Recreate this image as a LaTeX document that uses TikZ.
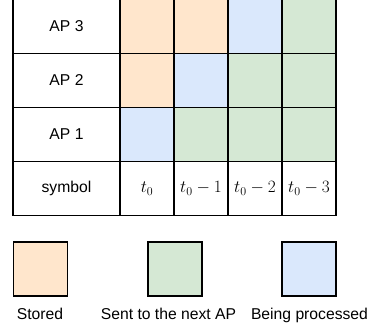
\documentclass[tikz,border=0pt]{standalone}
\usepackage[no-math]{fontspec}
\setmainfont{Liberation Sans}
\definecolor{stored}{HTML}{FFE6CC}
\definecolor{sent}{HTML}{D5E8D4}
\definecolor{proc}{HTML}{DAE8FC}
\begin{document}
\begin{tikzpicture}[x=1pt, y=-1pt, line width=1.2pt,
  every node/.style={rectangle, draw, minimum width=54pt, minimum height=54pt, inner sep=0pt, font=\fontsize{15.7}{19}\selectfont},
  head/.style={minimum width=107pt},
  sym/.style={font=\fontsize{17.4}{20}\selectfont},
  key/.style={draw=none, minimum width=0pt, minimum height=0pt, anchor=base}]
\useasboundingbox (0,0.6) rectangle (373,330);
% left column
\node[head] (ap3) at (66.5,27) {AP 3};
\node[head] (ap2) at (66.5,81) {AP 2};
\node[head] (ap1) at (66.5,135) {AP 1};
\node[head] (sym) at (66.5,189) {symbol};
% AP 3 row
\node[fill=stored] (c31) at (147,27) {};
\node[fill=stored] (c32) at (201,27) {};
\node[fill=proc] (c33) at (255,27) {};
\node[fill=sent] (c34) at (309,27) {};
% AP 2 row
\node[fill=stored] (c21) at (147,81) {};
\node[fill=proc] (c22) at (201,81) {};
\node[fill=sent] (c23) at (255,81) {};
\node[fill=sent] (c24) at (309,81) {};
% AP 1 row
\node[fill=proc] (c11) at (147,135) {};
\node[fill=sent] (c12) at (201,135) {};
\node[fill=sent] (c13) at (255,135) {};
\node[fill=sent] (c14) at (309,135) {};
% symbol row
\node[sym] (s1) at (147,189) {$t_0$};
\node[sym] (s2) at (201,189) {$t_0-1$};
\node[sym] (s3) at (255,189) {$t_0-2$};
\node[sym] (s4) at (309,189) {$t_0-3$};
% legend
\node[fill=stored] (lstored) at (40.5,269.5) {};
\node[fill=sent] (lsent) at (175,269.5) {};
\node[fill=proc] (lproc) at (309,269.5) {};
\node[key] (tstored) at (40,320.5) {Stored};
\node[key] (tsent) at (168.5,320.5) {Sent to the next AP};
\node[key] (tproc) at (309.5,320.5) {Being processed};
\end{tikzpicture}
\end{document}
